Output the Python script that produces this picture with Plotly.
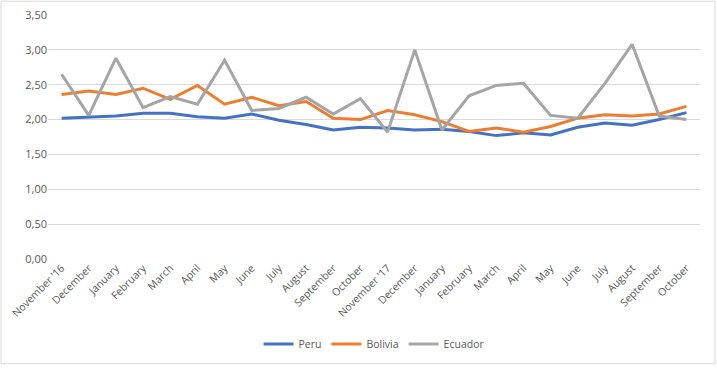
import plotly.graph_objects as go

months = ["November '16", "December", "January", "February", "March", "April", "May",
          "June", "July", "August", "September", "October", "November '17", "December",
          "January", "February", "March", "April", "May", "June", "July", "August",
          "September", "October"]

peru = [2.02, 2.04, 2.05, 2.09, 2.09, 2.04, 2.02, 2.08, 1.99, 1.93, 1.85, 1.89,
        1.88, 1.85, 1.86, 1.83, 1.77, 1.81, 1.78, 1.89, 1.95, 1.92, 2.00, 2.10]
bolivia = [2.36, 2.41, 2.36, 2.45, 2.29, 2.49, 2.22, 2.32, 2.20, 2.26, 2.02, 2.00,
           2.13, 2.07, 1.97, 1.83, 1.88, 1.82, 1.90, 2.02, 2.07, 2.05, 2.08, 2.19]
ecuador = [2.65, 2.06, 2.88, 2.17, 2.33, 2.22, 2.85, 2.13, 2.16, 2.32, 2.08, 2.30,
           1.82, 3.00, 1.85, 2.34, 2.49, 2.52, 2.06, 2.02, 2.52, 3.08, 2.05, 2.00]

y_ticks = [0, 0.5, 1.0, 1.5, 2.0, 2.5, 3.0, 3.5]

idx = list(range(len(months)))

fig = go.Figure()
for name, vals, color in [("Peru", peru, "#4472C4"),
                          ("Bolivia", bolivia, "#ED7D31"),
                          ("Ecuador", ecuador, "#A5A5A5")]:
    fig.add_trace(go.Scatter(x=idx, y=vals, mode="lines", name=name,
                             line=dict(color=color, width=3)))

fig.update_layout(
    width=717, height=371,
    margin=dict(l=48, r=17, t=15, b=109),
    paper_bgcolor="white", plot_bgcolor="white",
    separators=",.",
    font=dict(family="Open Sans", size=10, color="#595959"),
    showlegend=True,
    legend=dict(orientation="h", x=0.5, xanchor="center", y=-0.348, yanchor="middle",
                font=dict(size=10.5, color="#595959"), itemwidth=30, tracegroupgap=0),
    xaxis=dict(tickmode="array", tickvals=idx, ticktext=months, tickangle=-45,
               range=[-0.5, len(months) - 0.5], showgrid=False, zeroline=False,
               showline=False, ticks="", automargin=False,
               tickfont=dict(size=10.5, color="#595959")),
    yaxis=dict(range=[0, 3.5], tickvals=y_ticks, tickformat=".2f",
               showgrid=True, gridcolor="#d9d9d9", gridwidth=1, zeroline=False,
               showline=False, ticks="", automargin=False,
               tickfont=dict(size=11, color="#595959")),
    shapes=[dict(type="rect", xref="paper", yref="paper",
                 x0=(1 - 48) / 652, x1=(715 - 48) / 652,
                 y0=(262 - 368) / 247, y1=(262 - 1) / 247,
                 line=dict(color="#d9d9d9", width=1), layer="below")],
)

fig.write_html("out.html", config={"displayModeBar": False},
               post_script="document.body.style.margin='0';document.body.style.overflow='hidden';")
